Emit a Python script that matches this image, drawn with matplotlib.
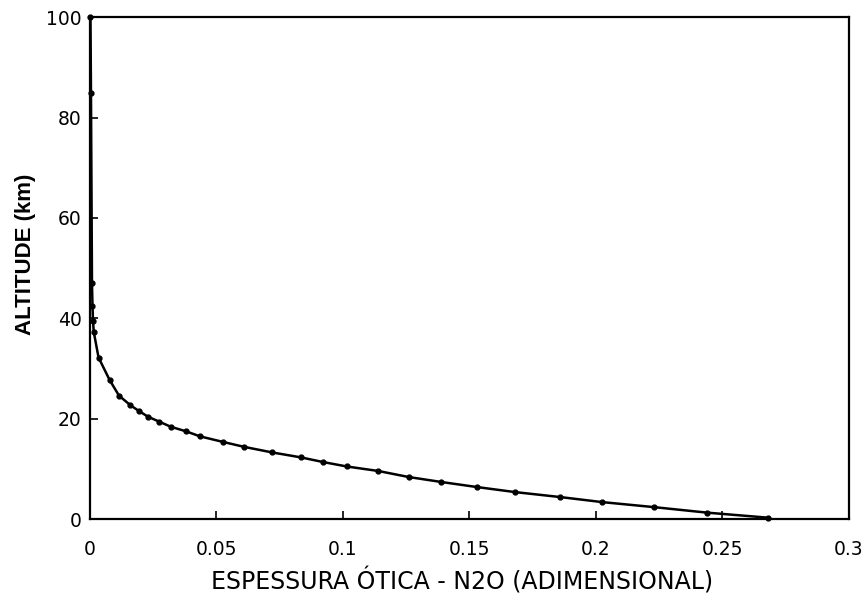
import matplotlib
matplotlib.use("Agg")
import matplotlib.pyplot as plt

# optical depth profile
altitude_km = [0.3, 1.3, 2.4, 3.4, 4.4, 5.4, 6.4, 7.4, 8.4, 9.6, 10.5, 11.4,
               12.3, 13.3, 14.4, 15.4, 16.5, 17.5, 18.4, 19.4, 20.4, 21.5,
               22.7, 24.6, 27.7, 32.2, 37.3, 39.5, 42.5, 47.0, 85.0, 100.0]
optical_depth = [0.268, 0.244, 0.223, 0.2025, 0.186, 0.168, 0.153, 0.139,
                 0.126, 0.114, 0.1015, 0.092, 0.0835, 0.072, 0.061, 0.0525,
                 0.0435, 0.038, 0.032, 0.0275, 0.023, 0.0195, 0.016, 0.0115,
                 0.0078, 0.0034, 0.0015, 0.0012, 0.001, 0.0008, 0.0004, 0.0002]

x_ticks = [0, 0.05, 0.1, 0.15, 0.2, 0.25, 0.3]
x_tick_labels = ["0", "0.05", "0.1", "0.15", "0.2", "0.25", "0.3"]
y_ticks = [0, 20, 40, 60, 80, 100]

plt.rcParams["font.family"] = ["DejaVu Sans"]

fig = plt.figure(figsize=(8.65, 5.94), dpi=100)
ax = fig.add_axes([0.104, 0.126, 0.877, 0.845])

ax.plot(optical_depth, altitude_km, color="black", linewidth=1.8,
        marker="o", markersize=3.5, clip_on=False)

ax.set_xlim(0, 0.3)
ax.set_ylim(0, 100)
ax.set_xticks(x_ticks)
ax.set_xticklabels(x_tick_labels)
ax.set_yticks(y_ticks)
ax.tick_params(direction="in", length=6, width=1.2, labelsize=13.5)
ax.tick_params(axis="x", pad=15)
ax.tick_params(axis="y", pad=6)

for spine in ax.spines.values():
    spine.set_linewidth(1.6)

ax.set_xlabel("ESPESSURA ÓTICA - N2O (ADIMENSIONAL)", fontsize=17)
ax.xaxis.set_label_coords(0.49, -0.096)
ax.set_ylabel("ALTITUDE (km)", fontsize=16, fontweight="bold",
              family=["Liberation Sans", "DejaVu Sans"])
ax.yaxis.set_label_coords(-0.071, 0.528)

fig.savefig("out.png", dpi=100)
